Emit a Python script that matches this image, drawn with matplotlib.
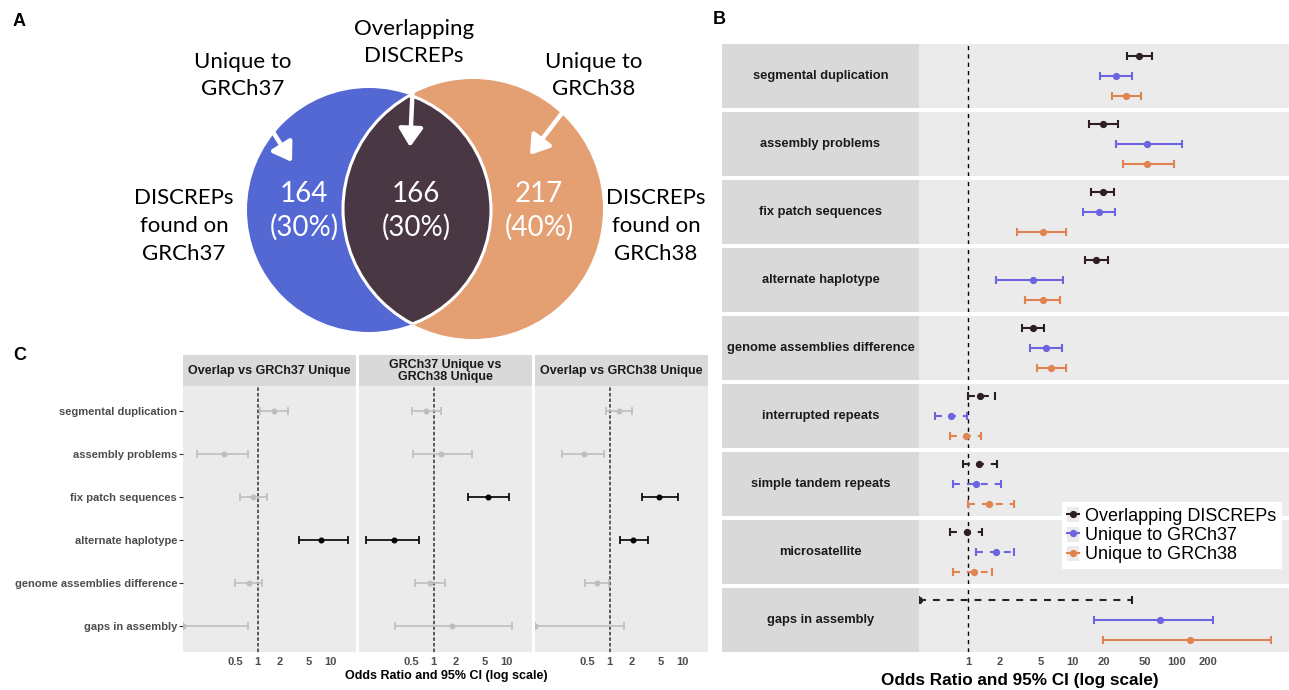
import numpy as np
import matplotlib
matplotlib.use("Agg")
import matplotlib.pyplot as plt
from matplotlib.patches import Circle, Rectangle, FancyArrowPatch
from matplotlib.lines import Line2D
from matplotlib.ticker import NullLocator
from matplotlib.legend_handler import HandlerTuple

plt.rcParams['font.family'] = ['Liberation Sans', 'DejaVu Sans']
plt.rcParams['lines.scale_dashes'] = False

# ---------------- data ----------------
# Panel A: Venn counts
venn_counts = [164, 166, 217]
venn_pcts = [30, 30, 40]

# Panel B: odds ratios per category for each DISCREP set
categories = ["segmental duplication", "assembly problems", "fix patch sequences",
              "alternate haplotype", "genome assemblies difference", "interrupted repeats",
              "simple tandem repeats", "microsatellite", "gaps in assembly"]
groups = ["Overlapping DISCREPs", "Unique to GRCh37", "Unique to GRCh38"]

or_overlap = [43.4, 19.8, 19.9, 17.1, 4.18, 1.31, 1.27, 0.98, 0.0]
lo_overlap = [33.2, 14.6, 15.3, 13.2, 3.29, 1.00, 0.89, 0.67, 0.0]
hi_overlap = [58.1, 27.8, 25.4, 22.0, 5.37, 1.83, 1.90, 1.38, 37.1]
solid_overlap = [True, True, True, True, True, False, False, False, False]

or_37 = [26.1, 51.7, 18.2, 4.18, 5.67, 0.69, 1.19, 1.86, 69.3]
lo_37 = [18.6, 26.6, 12.8, 1.86, 3.96, 0.48, 0.72, 1.20, 16.3]
hi_37 = [37.1, 114.0, 25.7, 8.22, 8.07, 0.99, 2.06, 2.74, 222.0]
solid_37 = [True, True, True, True, True, False, False, False, True]

or_38 = [33.0, 51.7, 5.24, 5.24, 6.30, 0.95, 1.61, 1.14, 135.0]
lo_38 = [24.2, 30.4, 2.96, 3.56, 4.64, 0.68, 1.00, 0.72, 19.7]
hi_38 = [45.3, 94.4, 8.76, 7.57, 8.76, 1.35, 2.80, 1.71, 804.0]
solid_38 = [True, True, True, True, True, False, False, False, True]

b_ticks = [1, 2, 5, 10, 20, 50, 100, 200]

# Panel C: pairwise comparisons
c_categories = ["segmental duplication", "assembly problems", "fix patch sequences",
                "alternate haplotype", "genome assemblies difference", "gaps in assembly"]
comparisons = ["Overlap vs GRCh37 Unique", "GRCh37 Unique vs\nGRCh38 Unique",
               "Overlap vs GRCh38 Unique"]

c1_or = [1.69, 0.349, 0.87, 7.44, 0.753, 0.0]
c1_lo = [1.09, 0.149, 0.572, 3.64, 0.489, 0.0]
c1_hi = [2.58, 0.736, 1.36, 17.1, 1.13, 0.744]
c1_sig = [False, False, False, True, False, False]

c2_or = [0.794, 1.27, 5.49, 0.287, 0.881, 1.77]
c2_lo = [0.511, 0.515, 2.99, 0.119, 0.556, 0.296]
c2_hi = [1.27, 3.39, 10.6, 0.623, 1.43, 12.0]
c2_sig = [False, False, True, True, False, False]

c3_or = [1.33, 0.445, 4.73, 2.11, 0.67, 0.0]
c3_lo = [0.881, 0.224, 2.74, 1.37, 0.455, 0.0]
c3_hi = [2.0, 0.828, 8.71, 3.32, 0.99, 1.57]
c3_sig = [False, False, True, True, False, False]

c_ticks = [0.5, 1, 2, 5, 10]

# ---------------- styling ----------------
W, H, DPI = 1289, 690, 100
COL_OVERLAP = '#2E1F24'
COL_37 = '#6C64E0'
COL_38 = '#E08350'
PANEL_BG = '#EBEBEB'
STRIP_BG = '#D9D9D9'
STRIP_TXT = '#1A1A1A'
TICK_TXT = '#4D4D4D'


def rect(x0, y0, x1, y1):
    return [x0 / W, 1 - y1 / H, (x1 - x0) / W, (y1 - y0) / H]


def draw_ci(ax, y, est, lo, hi, color, xmin, lw, capsize, ms, solid=True):
    est_d = max(est, xmin)
    lo_d = max(lo, xmin)
    eb = ax.errorbar([est_d], [y], xerr=[[est_d - lo_d], [hi - est_d]], fmt='o',
                     color=color, ecolor=color, ms=ms, elinewidth=lw,
                     capsize=capsize, capthick=lw, clip_on=True, zorder=3)
    if not solid:
        eb[2][0].set_linestyle((0, (5, 5)))
    return eb


fig = plt.figure(figsize=(W / DPI, H / DPI), dpi=DPI)
ov = fig.add_axes([0, 0, 1, 1])
ov.set_xlim(0, W)
ov.set_ylim(H, 0)
ov.axis('off')

# panel letters
for letter, (lx, ly) in zip("ABC", [(13, 22), (713, 20), (13, 356)]):
    ov.text(lx, ly, letter, fontsize=13, fontweight='bold', ha='left', va='center')

# ---------------- Panel A: Venn ----------------
venn_font = 'Lato'
blue_c = Circle((369, 210), 122, facecolor='#5468D4', edgecolor='none', zorder=1)
orange_c = Circle((473, 209), 130, facecolor='#E49F72', edgecolor='none', zorder=1)
ov.add_patch(blue_c)
ov.add_patch(orange_c)
lens = Circle((473, 209), 130, facecolor='#4A3744', edgecolor='none', zorder=2)
ov.add_patch(lens)
lens.set_clip_path(blue_c)
edge_a = Circle((473, 209), 130, fill=False, edgecolor='white', lw=2.2, zorder=3)
ov.add_patch(edge_a)
edge_a.set_clip_path(blue_c)
edge_b = Circle((369, 210), 122, fill=False, edgecolor='white', lw=2.2, zorder=3)
ov.add_patch(edge_b)
edge_b.set_clip_path(orange_c)

for cx, n, p in zip([304, 416, 539], venn_counts, venn_pcts):
    ov.text(cx, 194, str(n), color='white', fontsize=20, family=venn_font,
            ha='center', va='center', zorder=5)
    ov.text(cx, 227, f"({p}%)", color='white', fontsize=20, family=venn_font,
            ha='center', va='center', zorder=5)

outer_labels = [
    (243, [62, 89], ["Unique to", "GRCh37"]),
    (414, [29, 56], ["Overlapping", "DISCREPs"]),
    (594, [62, 89], ["Unique to", "GRCh38"]),
    (184, [198, 226, 254], ["DISCREPs", "found on", "GRCh37"]),
    (656, [198, 226, 254], ["DISCREPs", "found on", "GRCh38"]),
]
for cx, ys, lines in outer_labels:
    for yy, txt in zip(ys, lines):
        ov.text(cx, yy, txt, color='black', fontsize=16, family=venn_font,
                ha='center', va='center')

for tail, tip in [((271.7, 130), (292, 162)), ((412.7, 88), (410, 147)),
                  ((562, 113), (530, 155))]:
    ov.add_patch(FancyArrowPatch(tail, tip, arrowstyle='-|>,head_length=0.5,head_width=0.33',
                                 mutation_scale=22, lw=3.2, color='white',
                                 shrinkA=0, shrinkB=0, zorder=6))

# ---------------- Panel B ----------------
b_x0, b_x1, strip_x0 = 919, 1289, 722
b_top0, b_pitch, b_h = 44, 68, 64
b_xlim = (0.34, 1200)
series_b = [
    (or_overlap, lo_overlap, hi_overlap, solid_overlap, COL_OVERLAP),
    (or_37, lo_37, hi_37, solid_37, COL_37),
    (or_38, lo_38, hi_38, solid_38, COL_38),
]
for i, cat in enumerate(categories):
    y0 = b_top0 + i * b_pitch
    ax = fig.add_axes(rect(b_x0, y0, b_x1, y0 + b_h))
    ax.set_facecolor(PANEL_BG)
    for s in ax.spines.values():
        s.set_visible(False)
    ax.set_xscale('log')
    ax.set_xlim(*b_xlim)
    ax.set_ylim(3.6, 0.4)
    ax.axvline(1, color='black', lw=1.0, ls=(0, (3, 3)), zorder=2)
    for j, (ors, los, his, sol, col) in enumerate(series_b):
        draw_ci(ax, j + 1, ors[i], los[i], his[i], col, b_xlim[0],
                lw=1.5, capsize=2.9, ms=4.2, solid=sol[i])
    ax.set_yticks([])
    ax.xaxis.set_minor_locator(NullLocator())
    if i == len(categories) - 1:
        ax.set_xticks(b_ticks)
        ax.set_xticklabels([str(t) for t in b_ticks])
        ax.tick_params(axis='x', length=0, pad=3.5, labelsize=8, labelcolor=TICK_TXT)
        for lab in ax.get_xticklabels():
            lab.set_fontweight('bold')
    else:
        ax.set_xticks([])
    ov.add_patch(Rectangle((strip_x0, y0), b_x0 - strip_x0, b_h,
                           facecolor=STRIP_BG, edgecolor='none'))
    ov.text((strip_x0 + b_x0) / 2, y0 + b_h / 2, cat, fontsize=9.3, fontweight='bold',
            color=STRIP_TXT, ha='center', va='center')

ov.text(1020, 681, "Odds Ratio and 95% CI (log scale)", fontsize=12.3,
        fontweight='bold', ha='center', va='center')

handles = [(Rectangle((0, 0), 1, 1, facecolor=PANEL_BG, edgecolor='none'),
            Line2D([0], [0], color=c, marker='o', ms=4.2, lw=1.5))
           for c in (COL_OVERLAP, COL_37, COL_38)]
fig.legend(handles, groups, loc='upper left', bbox_to_anchor=(1062 / W, 1 - 502 / H),
           fontsize=13, frameon=True, facecolor='white', edgecolor='none',
           framealpha=1, fancybox=False, labelspacing=0.08, handlelength=0.65,
           handleheight=0.9, handletextpad=0.35, borderpad=0.3, borderaxespad=0,
           handler_map={tuple: HandlerTuple(ndivide=1)})

# ---------------- Panel C ----------------
c_facets = [(183.3, 355.7), (359.3, 531.7), (535.0, 707.7)]
c_strip_top, c_top, c_bot = 355, 385.7, 651.7
c_xlim = (0.0957, 22.0)
series_c = [(c1_or, c1_lo, c1_hi, c1_sig), (c2_or, c2_lo, c2_hi, c2_sig),
            (c3_or, c3_lo, c3_hi, c3_sig)]
ypos = np.arange(1, len(c_categories) + 1)
for k, ((x0, x1), title, (ors, los, his, sig)) in enumerate(zip(c_facets, comparisons, series_c)):
    ax = fig.add_axes(rect(x0, c_top, x1, c_bot))
    ax.set_facecolor(PANEL_BG)
    for s in ax.spines.values():
        s.set_visible(False)
    ax.set_xscale('log')
    ax.set_xlim(*c_xlim)
    ax.set_ylim(6.6, 0.4)
    ax.axvline(1, color='#333333', lw=1.1, ls=(0, (2.5, 1.5)), zorder=2)
    for yy, e, lo, hi, sg in zip(ypos, ors, los, his, sig):
        draw_ci(ax, yy, e, lo, hi, 'black' if sg else '#BEBEBE', c_xlim[0],
                lw=1.2, capsize=2.9, ms=3.3)
    ax.xaxis.set_minor_locator(NullLocator())
    ax.set_xticks(c_ticks)
    ax.set_xticklabels([f"{t:g}" for t in c_ticks])
    ax.tick_params(axis='x', length=0, pad=3.5, labelsize=8, labelcolor=TICK_TXT)
    for lab in ax.get_xticklabels():
        lab.set_fontweight('bold')
    ax.set_yticks(ypos)
    if k == 0:
        ax.set_yticklabels(c_categories)
        ax.tick_params(axis='y', length=3.2, width=0.8, color='#333333', pad=1.2,
                       labelsize=8, labelcolor=TICK_TXT)
        for lab in ax.get_yticklabels():
            lab.set_fontweight('bold')
    else:
        ax.tick_params(axis='y', length=0, labelleft=False)
    ov.add_patch(Rectangle((x0, c_strip_top), x1 - x0, c_top - c_strip_top,
                           facecolor=STRIP_BG, edgecolor='none'))
    ov.text((x0 + x1) / 2, (c_strip_top + c_top) / 2 + 0.5, title, fontsize=9,
            fontweight='bold', color=STRIP_TXT, ha='center', va='center',
            linespacing=1.0)

ov.text(446, 676, "Odds Ratio and 95% CI (log scale)", fontsize=9,
        fontweight='bold', ha='center', va='center')

fig.savefig("out.png", dpi=DPI)
